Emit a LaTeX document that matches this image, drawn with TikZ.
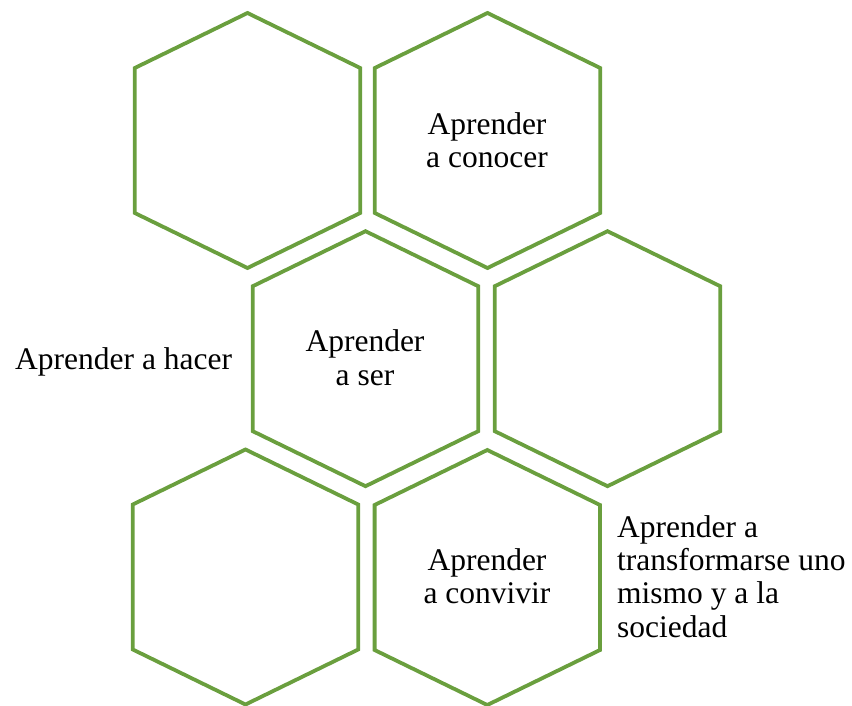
\documentclass[tikz,border=0pt]{standalone}
\usepackage{fontspec}
\setmainfont{Liberation Serif}
\definecolor{hexgreen}{RGB}{106,159,62}
\tikzset{
  hexline/.style={draw=hexgreen, line width=3.8pt, line join=miter},
  hexa/.pic={\path[hexline] (0,-127.5)--(112.7,-72.5)--(112.7,72.5)--(0,127.5)--(-112.7,72.5)--(-112.7,-72.5)--cycle;},
  lbl/.style={inner sep=0pt, font=\fontsize{31.5}{33.3}\selectfont, text=black},
}
\begin{document}
\begin{tikzpicture}[x=1pt,y=-1pt]
\useasboundingbox (0,0) rectangle (852,706);
\pic (h1) at (247.5,140.5) {hexa};
\pic (h2) at (487.5,140.5) {hexa};
\pic (h3) at (365.5,358.7) {hexa};
\pic (h4) at (607.5,358.7) {hexa};
\pic (h5) at (245.5,577) {hexa};
\pic (h6) at (487.3,577.5) {hexa};
\node[lbl, align=center, anchor=base] (t2) at (487,167.5) {Aprender\\a conocer};
\node[lbl, align=center, anchor=base] (t3) at (365,385) {Aprender\\a ser};
\node[lbl, align=center, anchor=base] (t6) at (487,603.5) {Aprender\\a convivir};
\node[lbl, anchor=base west] (t0) at (15,369) {Aprender a hacer};
\node[lbl, align=left, anchor=base west] (t7) at (617,637) {Aprender a\\transformarse uno\\mismo y a la\\sociedad};
\end{tikzpicture}
\end{document}
